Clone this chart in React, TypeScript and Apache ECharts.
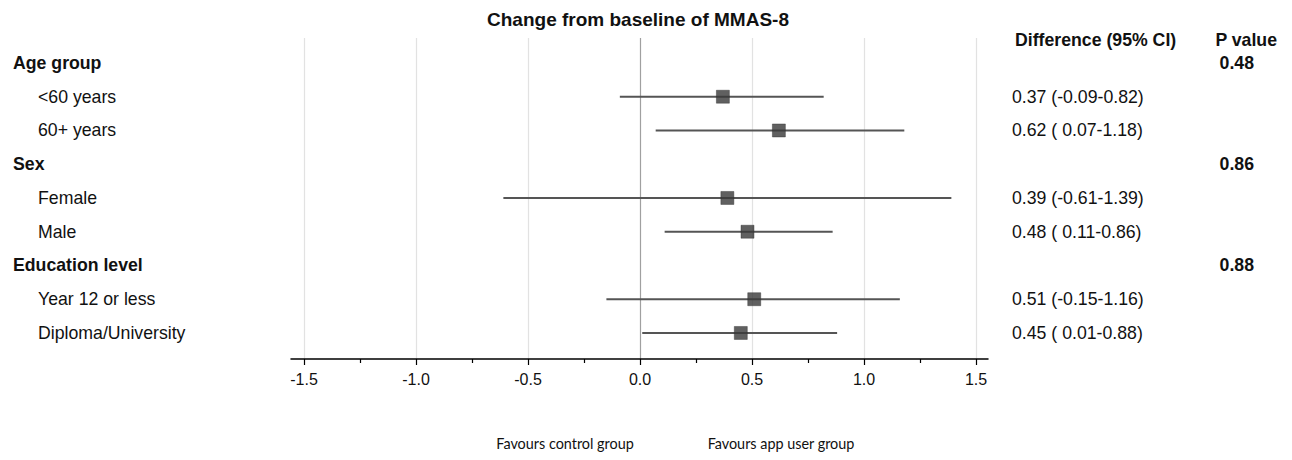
import React, { useEffect, useRef } from "react";
import * as echarts from "echarts";

const rowLabels = [
  "Age group",
  "<60 years",
  "60+ years",
  "Sex",
  "Female",
  "Male",
  "Education level",
  "Year 12 or less",
  "Diploma/University",
];
const isGroup = [true, false, false, true, false, false, true, false, false];
const estimates: (number | null)[] = [null, 0.37, 0.62, null, 0.39, 0.48, null, 0.51, 0.45];
const lowerCI: (number | null)[] = [null, -0.09, 0.07, null, -0.61, 0.11, null, -0.15, 0.01];
const upperCI: (number | null)[] = [null, 0.82, 1.18, null, 1.39, 0.86, null, 1.16, 0.88];
const ciTexts = [
  "",
  "0.37 (-0.09-0.82)",
  "0.62 ( 0.07-1.18)",
  "",
  "0.39 (-0.61-1.39)",
  "0.48 ( 0.11-0.86)",
  "",
  "0.51 (-0.15-1.16)",
  "0.45 ( 0.01-0.88)",
];
const pValues = ["0.48", "", "", "0.86", "", "", "0.88", "", ""];
const xMin = -1.5;
const xMax = 1.5;
const xInterval = 0.5;
const zeroIndex = 3; // index of the 0.0 split line among -1.5..1.5

const chartTitle = "Change from baseline of MMAS-8";
const headerDiff = "Difference (95% CI)";
const headerP = "P value";
const favourLeft = "Favours control group";
const favourRight = "Favours app user group";

const FONT = "'Liberation Sans', Arial, sans-serif";
const TEXT = "#111";
const FS = 17.7;

export default function App() {
  const ref = useRef<HTMLDivElement>(null);
  useEffect(() => {
    document.body.style.margin = "0";
    if (!ref.current) return;
    const chart = echarts.init(ref.current, null, { renderer: "svg" });

    const ciData: number[][] = [];
    const ptData: number[][] = [];
    rowLabels.forEach((_, i) => {
      const e = estimates[i];
      const lo = lowerCI[i];
      const hi = upperCI[i];
      if (e !== null && lo !== null && hi !== null) {
        ciData.push([lo, hi, i]);
        ptData.push([e, i]);
      }
    });

    const gridColors = [0, 1, 2, 3, 4, 5, 6].map((k) => (k === zeroIndex ? "#a0a0a0" : "#e2e2e2"));

    const option: any = {
      animation: false,
      backgroundColor: "#fff",
      textStyle: { fontFamily: FONT },
      grid: [
        { left: 291, right: 304, top: 38, height: 321 },
        { left: 304, right: 316, top: 38, height: 321 },
        { left: 304, right: 316, top: 46.1, height: 303.75 },
      ],
      xAxis: [
        {
          gridIndex: 0,
          type: "value",
          min: 0,
          max: 1,
          axisLine: { show: true, onZero: false, lineStyle: { color: "#000", width: 1.5 } },
          axisTick: { show: false },
          axisLabel: { show: false },
          splitLine: { show: false },
        },
        {
          gridIndex: 1,
          type: "value",
          min: xMin,
          max: xMax,
          interval: xInterval,
          axisLine: { show: false },
          axisTick: { show: true, length: 6, lineStyle: { color: "#000", width: 1.2 } },
          minorTick: { show: true, splitNumber: 2, length: 4, lineStyle: { color: "#000", width: 1.2 } },
          minorSplitLine: { show: false },
          axisLabel: {
            show: true,
            margin: 12,
            color: TEXT,
            fontSize: 16,
            fontFamily: FONT,
            formatter: (v: number) => v.toFixed(1),
          },
          splitLine: { show: true, lineStyle: { color: gridColors, width: 1.2 } },
        },
        {
          gridIndex: 2,
          type: "value",
          min: xMin,
          max: xMax,
          show: false,
        },
      ],
      yAxis: [
        {
          gridIndex: 2,
          type: "category",
          data: rowLabels,
          inverse: true,
          axisLine: { show: false },
          axisTick: { show: false },
          splitLine: { show: false },
          axisLabel: {
            margin: 291,
            align: "left",
            color: TEXT,
            fontSize: FS,
            fontFamily: FONT,
            formatter: (v: string, i: number) => (isGroup[i] ? `{g|${v}}` : `{s|${v}}`),
            rich: {
              g: { fontWeight: "bold", fontSize: FS, color: TEXT, fontFamily: FONT },
              s: { fontSize: FS, color: TEXT, fontFamily: FONT, padding: [0, 0, 0, 25] },
            },
          },
        },
        {
          gridIndex: 2,
          type: "category",
          position: "right",
          data: ciTexts,
          inverse: true,
          axisLine: { show: false },
          axisTick: { show: false },
          splitLine: { show: false },
          axisLabel: { margin: 36, align: "left", color: TEXT, fontSize: FS, fontFamily: FONT, interval: 0 },
        },
        {
          gridIndex: 2,
          type: "category",
          position: "right",
          data: pValues,
          inverse: true,
          axisLine: { show: false },
          axisTick: { show: false },
          splitLine: { show: false },
          axisLabel: {
            margin: 278,
            align: "right",
            color: TEXT,
            fontSize: FS,
            fontWeight: "bold",
            fontFamily: FONT,
            interval: 0,
          },
        },
        { gridIndex: 0, type: "value", show: false },
        { gridIndex: 1, type: "value", show: false },
      ],
      graphic: [
        {
          type: "text",
          x: 638,
          y: 19,
          style: {
            text: chartTitle,
            fill: TEXT,
            font: `bold 19px ${FONT}`,
            textAlign: "center",
            textVerticalAlign: "middle",
          },
        },
        {
          type: "text",
          x: 1015,
          y: 40,
          style: {
            text: headerDiff,
            fill: TEXT,
            font: `bold ${FS}px ${FONT}`,
            textAlign: "left",
            textVerticalAlign: "middle",
          },
        },
        {
          type: "text",
          x: 1277,
          y: 40,
          style: {
            text: headerP,
            fill: TEXT,
            font: `bold ${FS}px ${FONT}`,
            textAlign: "right",
            textVerticalAlign: "middle",
          },
        },
        {
          type: "text",
          x: 565,
          y: 443,
          style: {
            text: favourLeft,
            fill: TEXT,
            font: `14.4px Lato, 'Open Sans', sans-serif`,
            textAlign: "center",
            textVerticalAlign: "middle",
          },
        },
        {
          type: "text",
          x: 781,
          y: 443,
          style: {
            text: favourRight,
            fill: TEXT,
            font: `14.4px Lato, 'Open Sans', sans-serif`,
            textAlign: "center",
            textVerticalAlign: "middle",
          },
        },
      ],
      series: [
        {
          type: "custom",
          xAxisIndex: 2,
          yAxisIndex: 0,
          data: ciData,
          z: 2,
          renderItem: (params: any, api: any) => {
            const p1 = api.coord([api.value(0), api.value(2)]);
            const p2 = api.coord([api.value(1), api.value(2)]);
            return {
              type: "line",
              shape: { x1: p1[0], y1: p1[1], x2: p2[0], y2: p2[1] },
              style: { stroke: "#555", lineWidth: 1.8 },
            };
          },
        },
        {
          type: "scatter",
          xAxisIndex: 2,
          yAxisIndex: 0,
          data: ptData,
          symbol: "rect",
          symbolSize: 13,
          z: 3,
          itemStyle: { color: "#383838", borderColor: "#2e2e2e", borderWidth: 0.5 },
        },
      ],
    };

    chart.setOption(option);
    return () => chart.dispose();
  }, []);

  return <div ref={ref} style={{ width: 1292, height: 460 }} />;
}
